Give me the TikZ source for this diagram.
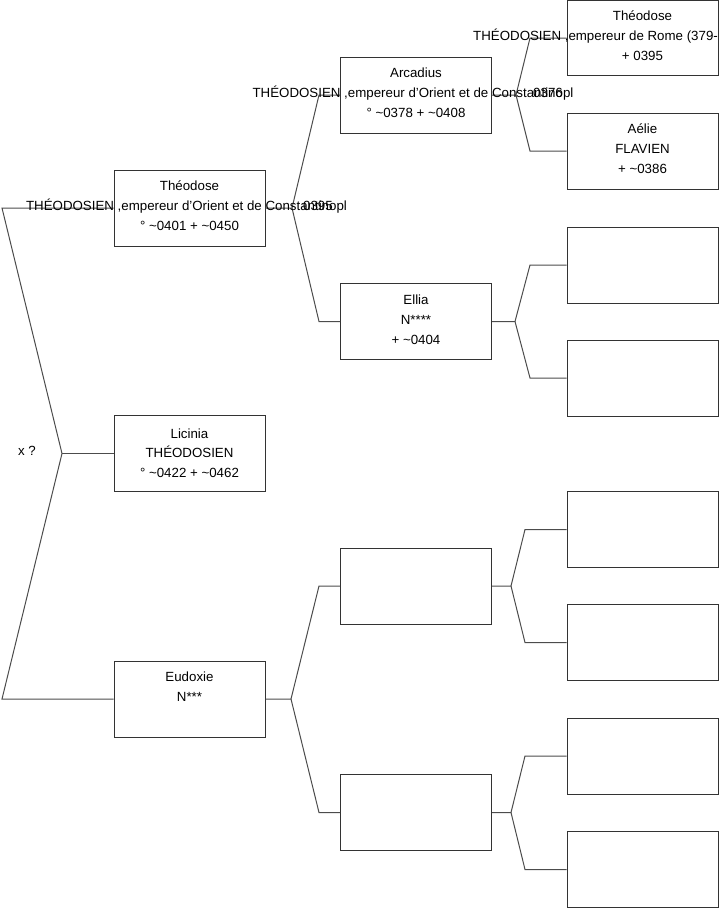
\documentclass[tikz,border=0pt]{standalone}
\usepackage{fontspec}
\setmainfont{Liberation Sans}
\begin{document}
\begin{tikzpicture}[x=1pt,y=-1pt,
  box/.style={draw=black!80, line width=1pt, minimum width=151pt, minimum height=76pt, inner sep=0pt},
  lnk/.style={draw=black!70, line width=1pt},
  lbl/.style={font=\fontsize{13.3}{15}\selectfont, inner sep=0pt, text height=9.5pt, text depth=0pt}
]
\useasboundingbox (0,0) rectangle (719,908);

% boxes
\node[box] (theo)  at (189.5,208)   {};
\node[box] (lici)  at (189.5,453.5) {};
\node[box] (eudo)  at (189.5,699)   {};
\node[box] (arca)  at (416,95)      {};
\node[box] (ellia) at (416,321.5)   {};
\node[box] (ea)    at (416,586)     {};
\node[box] (eb)    at (416,812.5)   {};
\node[box, minimum height=75pt] (theo2) at (642.5,38) {};
\node[box] (aelie) at (642.5,151)   {};
\node[box] (ra)    at (642.5,265)   {};
\node[box] (rb)    at (642.5,378)   {};
\node[box] (rc)    at (642.5,529.5) {};
\node[box] (rd)    at (642.5,642.5) {};
\node[box] (re)    at (642.5,756)   {};
\node[box] (rf)    at (642.5,869.5) {};

% fork coordinates
\coordinate (a1) at (2,208);
\coordinate (v1) at (62,453.5);
\coordinate (a2) at (2,699);
\coordinate (v2) at (292,208);
\coordinate (b1) at (319,95);
\coordinate (b2) at (319,321.5);
\coordinate (v3) at (516,95);
\coordinate (c1) at (530,38);
\coordinate (c2) at (530,151);
\coordinate (v4) at (515,321.5);
\coordinate (d1) at (530,265);
\coordinate (d2) at (530,378);
\coordinate (v5) at (291,699);
\coordinate (e1) at (319,586);
\coordinate (e2) at (319,812.5);
\coordinate (v6) at (511,586);
\coordinate (f1) at (525,529.5);
\coordinate (f2) at (525,642.5);
\coordinate (v7) at (511,812.5);
\coordinate (g1) at (525,756);
\coordinate (g2) at (525,869.5);

% connectors
\draw[lnk] (theo.west) -- (a1) -- (v1) -- (a2) -- (eudo.west);
\draw[lnk] (v1) -- (lici.west);
\draw[lnk] (theo.east) -- (v2) -- (b1) -- (arca.west);
\draw[lnk] (v2) -- (b2) -- (ellia.west);
\draw[lnk] (arca.east) -- (v3) -- (c1) -- (theo2.west);
\draw[lnk] (v3) -- (c2) -- (aelie.west);
\draw[lnk] (ellia.east) -- (v4) -- (d1) -- (ra.west);
\draw[lnk] (v4) -- (d2) -- (rb.west);
\draw[lnk] (eudo.east) -- (v5) -- (e1) -- (ea.west);
\draw[lnk] (v5) -- (e2) -- (eb.west);
\draw[lnk] (ea.east) -- (v6) -- (f1) -- (rc.west);
\draw[lnk] (v6) -- (f2) -- (rd.west);
\draw[lnk] (eb.east) -- (v7) -- (g1) -- (re.west);
\draw[lnk] (v7) -- (g2) -- (rf.west);

% labels
\node[lbl] (xq) at (27,451) {x ?};

\node[lbl] (t1) at (189.5,186) {Théodose};
\node[lbl] (t2) at (186.5,206) {THÉODOSIEN ,empereur d'Orient et de Constantinopl};
\node[lbl] (t3) at (189.5,226) {° \textasciitilde0401 + \textasciitilde0450};
\node[lbl] (t4) at (318,206) {0395};

\node[lbl] (l1) at (189.5,434) {Licinia};
\node[lbl] (l2) at (189.5,453) {THÉODOSIEN};
\node[lbl] (l3) at (189.5,473) {° \textasciitilde0422 + \textasciitilde0462};

\node[lbl] (u1) at (189.5,677) {Eudoxie};
\node[lbl] (u2) at (189.5,697) {N***};

\node[lbl] (r1) at (416,73) {Arcadius};
\node[lbl] (r2) at (413,93) {THÉODOSIEN ,empereur d'Orient et de Constantinopl};
\node[lbl] (r3) at (416,113) {° \textasciitilde0378 + \textasciitilde0408};
\node[lbl] (r4) at (548,93) {0376};

\node[lbl] (s1) at (416,300) {Ellia};
\node[lbl] (s2) at (416,320) {N****};
\node[lbl] (s3) at (416,340) {+ \textasciitilde0404};

\node[lbl] (h1) at (642.5,16) {Théodose};
\node[lbl, anchor=west] (h2) at (473,36) {THÉODOSIEN ,empereur de Rome (379-};
\node[lbl] (h3) at (642.5,56) {+ 0395};

\node[lbl] (k1) at (642.5,129) {Aélie};
\node[lbl] (k2) at (642.5,149) {FLAVIEN};
\node[lbl] (k3) at (642.5,169) {+ \textasciitilde0386};
\end{tikzpicture}
\end{document}
